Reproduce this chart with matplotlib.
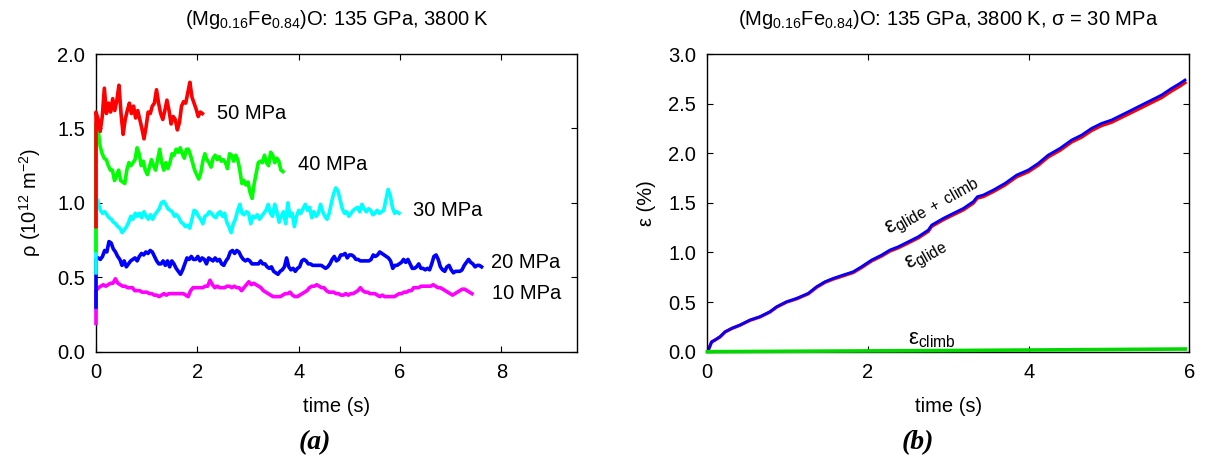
import numpy as np
import matplotlib
matplotlib.use("Agg")
import matplotlib.pyplot as plt

plt.rcParams["font.family"] = ["Liberation Sans", "DejaVu Sans"]
plt.rcParams["mathtext.fontset"] = "custom"
plt.rcParams["mathtext.rm"] = "Liberation Sans"
plt.rcParams["mathtext.it"] = "Liberation Sans:italic"
plt.rcParams["mathtext.bf"] = "Liberation Sans:bold"

# ---- (a) dislocation density vs time, one run per applied stress ----
stress_labels = ["10 MPa", "20 MPa", "30 MPa", "40 MPa", "50 MPa"]
t_end = [7.42, 7.61, 5.98, 3.69, 2.10]
rho_start = [0.19, 0.30, 0.53, 0.68, 0.84]

rho_10 = [0.41, 0.43, 0.44, 0.45, 0.44, 0.45, 0.46, 0.46, 0.49, 0.46, 0.45, 0.44, 0.44, 0.43,
          0.43, 0.43, 0.41, 0.41, 0.41, 0.40, 0.40, 0.40, 0.39, 0.39, 0.38, 0.38, 0.37, 0.38,
          0.39, 0.38, 0.39, 0.39, 0.39, 0.39, 0.39, 0.39, 0.39, 0.38, 0.37, 0.41, 0.43, 0.43,
          0.43, 0.43, 0.43, 0.44, 0.44, 0.48, 0.45, 0.43, 0.44, 0.43, 0.43, 0.43, 0.44, 0.44,
          0.43, 0.44, 0.43, 0.43, 0.41, 0.43, 0.45, 0.47, 0.45, 0.46,
          0.45, 0.44, 0.43, 0.41, 0.40, 0.39, 0.38, 0.37, 0.37, 0.37, 0.37, 0.38, 0.39, 0.39,
          0.40, 0.38, 0.37, 0.37, 0.38, 0.39, 0.40, 0.41, 0.43, 0.44, 0.44, 0.45, 0.44, 0.43,
          0.43, 0.41, 0.40, 0.40, 0.40, 0.39, 0.39, 0.38, 0.38, 0.39, 0.38, 0.39, 0.39, 0.40,
          0.41, 0.43, 0.41, 0.40, 0.40, 0.39, 0.39, 0.39, 0.38, 0.37, 0.38, 0.37, 0.37, 0.37,
          0.37, 0.37,
          0.38, 0.39, 0.39, 0.40, 0.40, 0.41, 0.41, 0.43, 0.43, 0.43, 0.44, 0.44, 0.44, 0.44,
          0.44, 0.45, 0.44, 0.43, 0.43, 0.42, 0.41, 0.40, 0.39, 0.38, 0.39, 0.40, 0.41, 0.42,
          0.42, 0.41, 0.40, 0.39]

rho_20 = [0.62, 0.63, 0.62, 0.64, 0.68, 0.67, 0.74, 0.73, 0.69, 0.67, 0.64, 0.62, 0.58, 0.61,
          0.57, 0.59, 0.61, 0.62, 0.63, 0.61, 0.64, 0.66, 0.65, 0.67, 0.66, 0.68, 0.67, 0.64,
          0.61, 0.59, 0.59, 0.61, 0.58, 0.61, 0.57, 0.61, 0.59, 0.56, 0.54, 0.52, 0.55, 0.59,
          0.63, 0.62, 0.64, 0.62, 0.62, 0.64, 0.61, 0.63, 0.62, 0.59, 0.63, 0.62, 0.61, 0.63,
          0.61, 0.62, 0.59, 0.58, 0.61, 0.63, 0.67, 0.68, 0.66, 0.68, 0.67, 0.64, 0.62, 0.61,
          0.62, 0.61, 0.59, 0.59, 0.59,
          0.59, 0.61, 0.59, 0.59, 0.57, 0.56, 0.57, 0.54, 0.53, 0.52, 0.54, 0.55, 0.57, 0.63,
          0.57, 0.55, 0.56, 0.54, 0.56, 0.57, 0.61, 0.62, 0.61, 0.59, 0.59, 0.58, 0.58, 0.58,
          0.58, 0.58, 0.57, 0.56, 0.57, 0.59, 0.62, 0.64, 0.61, 0.62, 0.65, 0.65, 0.66, 0.63,
          0.65, 0.65, 0.64, 0.62, 0.62, 0.61, 0.61, 0.61, 0.61, 0.61, 0.62, 0.65, 0.64, 0.65,
          0.67, 0.66, 0.65, 0.64, 0.63, 0.61, 0.56, 0.58,
          0.58, 0.59, 0.60, 0.62, 0.60, 0.62, 0.59, 0.56, 0.56, 0.57, 0.59, 0.56, 0.56, 0.55,
          0.56, 0.55, 0.59, 0.64, 0.65, 0.62, 0.57, 0.55, 0.54, 0.57, 0.58, 0.55, 0.53, 0.54,
          0.54, 0.54, 0.55, 0.58, 0.60, 0.62, 0.60, 0.59, 0.57, 0.58, 0.58, 0.57]

rho_30 = [1.04, 1.00, 0.95, 0.93, 0.94, 0.92, 0.90, 0.89, 0.87, 0.86, 0.84, 0.83, 0.80, 0.82,
          0.84, 0.87, 0.91, 0.89, 0.93, 0.91, 0.93, 0.90, 0.94, 0.91, 0.89, 0.92, 0.89, 0.92,
          0.94, 0.96, 1.00, 1.01, 0.99, 0.96, 0.95, 0.94, 0.91, 0.92, 0.90, 0.87, 0.86, 0.84,
          0.85, 0.83, 0.89, 0.95, 0.94, 0.91, 0.89, 0.86, 0.91, 0.92, 0.94, 0.93, 0.91, 0.90,
          0.93, 0.94, 0.91, 0.93, 0.87, 0.84, 0.80, 0.86, 0.89, 0.95, 0.99, 0.93, 0.92, 0.94,
          0.93, 0.86, 0.91,
          0.90, 0.92, 0.89, 0.91, 0.93, 0.95, 0.99, 0.93, 0.91, 0.99, 0.94, 0.87, 0.91, 0.94,
          0.86, 1.00, 0.91, 0.93, 0.84, 0.91, 0.95, 0.93, 0.96, 0.99, 0.95, 0.97, 0.90, 0.94,
          0.91, 0.93, 0.99, 0.94, 0.91, 0.89, 0.93, 1.00, 1.06, 1.10, 1.08, 1.02, 0.96, 0.93,
          0.94, 0.91, 0.93, 0.95, 0.96, 0.97, 0.94, 0.99, 0.96, 0.94, 0.96, 0.95, 0.92, 0.93,
          0.95, 0.93, 0.94, 0.95, 1.02, 1.09, 1.05, 0.97, 0.93, 0.94, 0.93]

rho_40 = [1.53, 1.49, 1.38, 1.33, 1.30, 1.29, 1.25, 1.22, 1.22, 1.15, 1.18, 1.22, 1.15, 1.14,
          1.13, 1.22, 1.27, 1.25, 1.27, 1.29, 1.37, 1.33, 1.25, 1.28, 1.22, 1.19, 1.24, 1.29,
          1.25, 1.22, 1.29, 1.36, 1.27, 1.22, 1.27, 1.23, 1.27, 1.33, 1.32, 1.36, 1.34, 1.37,
          1.33, 1.30, 1.36, 1.36, 1.32, 1.27, 1.22, 1.19, 1.16, 1.20,
          1.28, 1.33, 1.29, 1.27, 1.24, 1.30, 1.32, 1.29, 1.31, 1.28, 1.29, 1.27, 1.23, 1.33,
          1.32, 1.28, 1.32, 1.29, 1.22, 1.13, 1.15, 1.12, 1.14, 1.07, 1.03, 1.13, 1.20, 1.27,
          1.28, 1.27, 1.32, 1.27, 1.25, 1.34, 1.32, 1.27, 1.30, 1.28, 1.22, 1.21]

rho_50 = [1.61, 1.56, 1.48, 1.58, 1.77, 1.60, 1.67, 1.61, 1.70, 1.62, 1.69, 1.79, 1.60, 1.46,
          1.56, 1.62, 1.67, 1.60, 1.65, 1.57, 1.62, 1.56, 1.50, 1.43, 1.51, 1.61, 1.60, 1.65,
          1.67, 1.76, 1.67, 1.60, 1.56, 1.62, 1.69, 1.62, 1.53, 1.58, 1.56, 1.49, 1.54, 1.65,
          1.68, 1.67, 1.74, 1.81, 1.71, 1.67, 1.63, 1.58, 1.61, 1.60]

rho_series = [rho_10, rho_20, rho_30, rho_40, rho_50]
rho_colors = ["#ff00ff", "#0000ff", "#00ffff", "#00ff00", "#ff0000"]
label_xy = [(7.81, 0.39), (7.79, 0.60), (6.25, 0.95), (3.99, 1.26), (2.39, 1.60)]

# ---- (b) accumulated strain at 30 MPa ----
t_strain = [0, 0.012, 0.054, 0.095, 0.158, 0.22, 0.303, 0.407, 0.531, 0.656, 0.78, 0.863,
            0.988, 1.112, 1.257, 1.361, 1.465, 1.568, 1.693, 1.817, 1.921, 2.046, 2.17, 2.274,
            2.378, 2.502, 2.627, 2.751, 2.793, 2.938, 3.062, 3.187, 3.311, 3.361, 3.436, 3.56,
            3.705, 3.851, 3.996, 4.12, 4.245, 4.39, 4.535, 4.66, 4.784, 4.909, 5.033, 5.158,
            5.282, 5.407, 5.531, 5.656, 5.78, 5.884, 5.946]
eps_total = [0, 0.017, 0.10, 0.118, 0.151, 0.20, 0.235, 0.269, 0.319, 0.353, 0.403, 0.453,
             0.504, 0.537, 0.588, 0.655, 0.705, 0.739, 0.773, 0.806, 0.857, 0.924, 0.974, 1.025,
             1.058, 1.108, 1.159, 1.226, 1.276, 1.344, 1.394, 1.444, 1.512, 1.562, 1.579, 1.629,
             1.696, 1.78, 1.831, 1.898, 1.982, 2.049, 2.133, 2.183, 2.251, 2.301, 2.335, 2.385,
             2.435, 2.486, 2.536, 2.587, 2.654, 2.704, 2.738]
eps_glide = [0, 0.015, 0.098, 0.116, 0.149, 0.198, 0.233, 0.267, 0.316, 0.350, 0.400, 0.449,
             0.500, 0.533, 0.583, 0.649, 0.699, 0.732, 0.765, 0.798, 0.848, 0.915, 0.964, 1.014,
             1.047, 1.096, 1.147, 1.213, 1.263, 1.330, 1.380, 1.429, 1.497, 1.547, 1.563, 1.613,
             1.679, 1.763, 1.813, 1.879, 1.963, 2.029, 2.113, 2.162, 2.229, 2.279, 2.312, 2.362,
             2.411, 2.461, 2.511, 2.561, 2.628, 2.677, 2.711]
t_climb = [0, 1, 2, 3, 4, 5, 5.95]
eps_climb = [0, 0.004, 0.008, 0.012, 0.017, 0.022, 0.027]

FS = 14.5

fig = plt.figure(figsize=(12.05, 4.66), dpi=100)
bottom = (466 - 351.7) / 466
height = 297.7 / 466
ax1 = fig.add_axes([96 / 1205, bottom, 481.3 / 1205, height])
ax2 = fig.add_axes([707.3 / 1205, bottom, 482 / 1205, height])


def style_axes(ax):
    for sp in ax.spines.values():
        sp.set_linewidth(1.0)
        sp.set_color("black")
    ax.tick_params(direction="in", top=True, right=True, length=4.5, width=0.8,
                   labelsize=FS, pad=8)


for rho, t1, r0, col in zip(rho_series, t_end, rho_start, rho_colors):
    t = np.concatenate([[0.0], np.linspace(0.0, t1, len(rho))])
    ax1.plot(t, [r0] + rho, color=col, lw=2.6, solid_joinstyle="round",
             zorder=3, clip_on=False)

for (x, y), lab in zip(label_xy, stress_labels):
    ax1.text(x, y, lab, fontsize=FS, ha="left", va="center")

ax1.set_xlim(0, 9.5)
ax1.set_ylim(0, 2.0)
ax1.set_xticks([0, 2, 4, 6, 8])
ax1.set_yticks([0.0, 0.5, 1.0, 1.5, 2.0])
ax1.yaxis.set_major_formatter(matplotlib.ticker.FormatStrFormatter("%.1f"))
ax1.set_xlabel("time (s)", fontsize=FS, labelpad=11)
ax1.set_ylabel(r"ρ (10$^{12}$ m$^{-2}$)", fontsize=FS, labelpad=10)
ax1.set_title(r"(Mg$_{0.16}$Fe$_{0.84}$)O: 135 GPa, 3800 K", fontsize=FS, pad=21)
style_axes(ax1)

ax2.plot(t_climb, eps_climb, color="#00d800", lw=2.6, clip_on=False, zorder=3)
ax2.plot(t_strain, eps_glide, color="#ff0000", lw=2.4)
ax2.plot(t_strain, eps_total, color="#0000ff", lw=2.0)

EFS = 16
ax2.text(2.80, 1.46, r"ε$_{\mathrm{glide\ +\ climb}}$", fontsize=EFS, rotation=29.4,
         ha="center", va="center", rotation_mode="anchor")
ax2.text(2.73, 0.96, r"ε$_{\mathrm{glide}}$", fontsize=EFS, rotation=29.4,
         ha="center", va="center", rotation_mode="anchor")
ax2.text(2.79, 0.12, r"ε$_{\mathrm{climb}}$", fontsize=EFS, ha="center", va="center")

ax2.set_xlim(0, 6)
ax2.set_ylim(0, 3.0)
ax2.set_xticks([0, 2, 4, 6])
ax2.set_yticks(np.arange(0, 3.01, 0.5))
ax2.yaxis.set_major_formatter(matplotlib.ticker.FormatStrFormatter("%.1f"))
ax2.set_xlabel("time (s)", fontsize=FS, labelpad=11)
ax2.set_ylabel("ε (%)", fontsize=FS, labelpad=9)
ax2.set_title(r"(Mg$_{0.16}$Fe$_{0.84}$)O: 135 GPa, 3800 K, σ = 30 MPa",
              fontsize=FS, pad=21)
style_axes(ax2)

cap = dict(fontsize=20, fontweight="bold", fontstyle="italic",
           family="Liberation Serif", ha="center", va="center")
fig.text(315 / 1205, 1 - 443 / 466, "(a)", **cap)
fig.text(918 / 1205, 1 - 443 / 466, "(b)", **cap)

fig.savefig("out.png", dpi=100)
